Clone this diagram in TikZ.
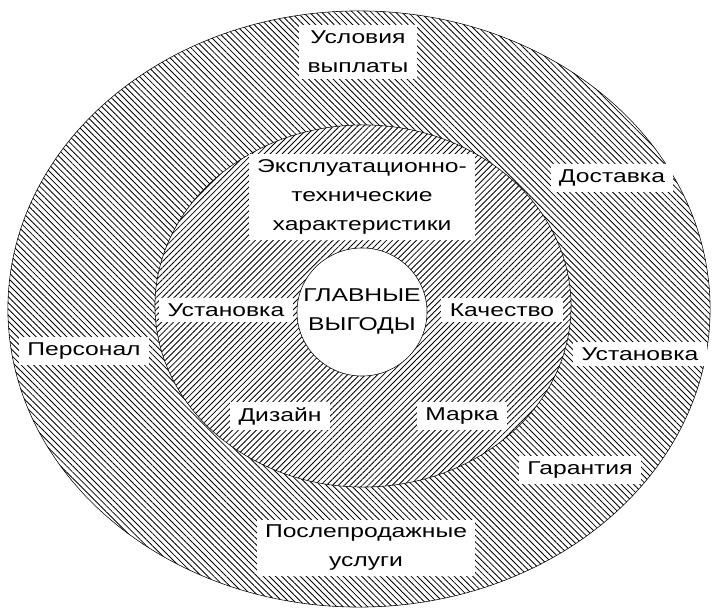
\documentclass[tikz,border=0pt]{standalone}
\usepackage{fontspec}
\setmainfont{Liberation Sans}[FakeStretch=1.33]
\usetikzlibrary{patterns.meta}

\begin{document}
\begin{tikzpicture}[x=0.025cm,y=-0.025cm,
    lbl/.style={fill=white,align=center,inner xsep=6pt,inner ysep=4pt,font=\fontsize{13.2}{20.6}\selectfont},
    outerhatch/.style={pattern={Lines[angle=-45,distance=3.1pt,line width=0.6pt]}},
    innerhatch/.style={pattern={Lines[angle=45,distance=3pt,line width=0.6pt]}}]
    \useasboundingbox (0,0) rectangle (712,609);
    % rings
    \draw[thin,outerhatch] (359,309) ellipse [x radius=8.775cm,y radius=7.45cm];
    \fill[white] (363,306) ellipse [x radius=5.2cm,y radius=4.525cm];
    \draw[thin,innerhatch] (363,306) ellipse [x radius=5.2cm,y radius=4.525cm];
    \draw[thin,fill=white] (362,312) ellipse [x radius=1.625cm,y radius=1.6cm];
    % outer ring
    \node[lbl] (pay) at (358,52) {Условия\\выплаты};
    \node[lbl] (delivery) at (612,178) {Доставка};
    \node[lbl] (staff) at (84,351) {Персонал};
    \node[lbl] (setupout) at (640,354) {Установка};
    \node[lbl] (warranty) at (580,470) {Гарантия};
    \node[lbl] (service) at (366,548) {Послепродажные\\услуги};
    % inner ring
    \node[lbl] (tech) at (362,197) {Эксплуатационно-\\технические\\характеристики};
    \node[lbl] (setupin) at (226,310) {Установка};
    \node[lbl] (quality) at (502,310) {Качество};
    \node[lbl] (design) at (280,416) {Дизайн};
    \node[lbl] (brand) at (462,416) {Марка};
    % core
    \node[lbl,fill=none] (core) at (362,311) {ГЛАВНЫЕ\\ВЫГОДЫ};
\end{tikzpicture}
\end{document}
